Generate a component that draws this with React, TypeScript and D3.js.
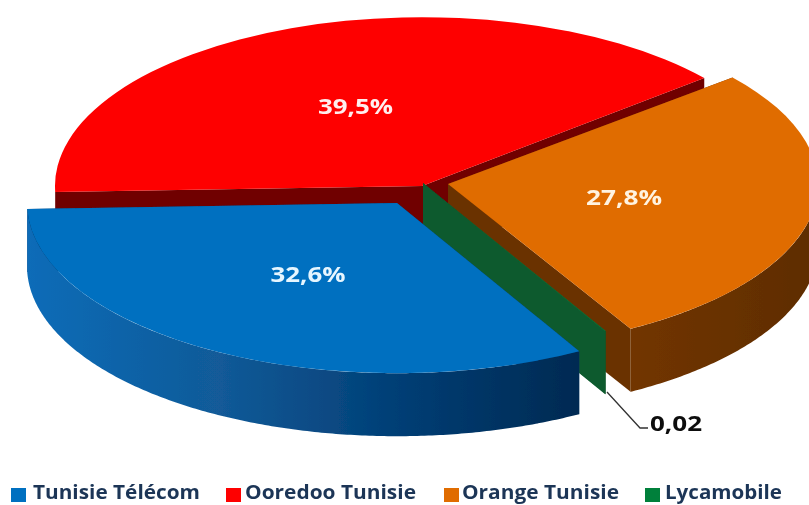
import React from "react";
import * as d3 from "d3";

const categories = ["Tunisie Télécom", "Ooredoo Tunisie", "Orange Tunisie", "Lycamobile"];
const values = [32.6, 39.5, 27.8, 0.02];
const valueLabels = ["32,6%", "39,5%", "27,8%", "0,02"];

const topColors = ["#0070c0", "#fe0000", "#e06c00", "#00803a"];
const wallColors = ["url(#blueWall)", "#700000", "url(#orangeWall)", "#0b5a2e"];
const cutColors = ["#0a3f70", "#700000", "#6a3204", "#0b5a2e"];
const centers: [number, number][] = [[397, 203], [422, 186], [448, 184], [423, 183]];
const radii = [370, 367, 370, 370];
const flatten = [0.46, 0.46, 0.45, 0.46];
const labelPos: [number, number][] = [[308, 282], [355.5, 114], [624, 205], [676, 431]];
const labelWidths = [75, 75, 76, 52];
const legendSwatchX = [11, 226, 444, 645];
const legendTextX = [33, 245, 462, 665];
const legendTextWidths = [167, 171, 157, 117];
const drawOrder = [1, 2, 3, 0];

const W = 809, H = 505, DEPTH = 63;
const START = (150.5 * Math.PI) / 180;
const sans = "'Open Sans', sans-serif";

export default function App() {
  const arcs = d3.pie<number>().sort(null).startAngle(START).endAngle(START + 2 * Math.PI)(values);
  const poly = d3.line();
  const rad = Math.PI / 180;
  const px = (i: number, a: number) => centers[i][0] + radii[i] * Math.sin(a);
  const py = (i: number, a: number) => centers[i][1] - radii[i] * flatten[i] * Math.cos(a);

  const outerWall = (i: number, a0: number, a1: number) => {
    const out: string[] = [];
    for (const [lo, hi] of [[90 * rad, 270 * rad], [450 * rad, 630 * rad]]) {
      const s = Math.max(a0, lo), e = Math.min(a1, hi);
      if (e <= s) continue;
      const pts = [...d3.range(s, e, 0.01), e];
      const area = d3.area<number>().x((a) => px(i, a)).y0((a) => py(i, a)).y1((a) => py(i, a) + DEPTH);
      out.push(area(pts) as string);
    }
    return out.join("");
  };
  const cutWall = (i: number, a: number) => {
    const c = centers[i];
    return (
      poly([
        [c[0], c[1]],
        [px(i, a), py(i, a)],
        [px(i, a), py(i, a) + DEPTH],
        [c[0], c[1] + DEPTH],
      ]) + "Z"
    );
  };

  return (
    <svg width={W} height={H} style={{ position: "absolute", left: 0, top: 0, background: "#fff" }}>
      <defs>
        <linearGradient id="blueWall" gradientUnits="userSpaceOnUse" x1="27" x2="580" y1="0" y2="0">
          <stop offset="0" stopColor="#0a6cb8" />
          <stop offset="0.35" stopColor="#125a98" />
          <stop offset="0.7" stopColor="#003c72" />
          <stop offset="1" stopColor="#002a52" />
        </linearGradient>
        <linearGradient id="orangeWall" gradientUnits="userSpaceOnUse" x1="610" x2="809" y1="0" y2="0">
          <stop offset="0" stopColor="#743606" />
          <stop offset="1" stopColor="#5f2d00" />
        </linearGradient>
        <filter id="soft" x="-5%" y="-5%" width="110%" height="110%">
          <feGaussianBlur stdDeviation="0.7" />
        </filter>
        <filter id="shadow" x="-20%" y="-30%" width="140%" height="160%">
          <feGaussianBlur stdDeviation="0.5" />
        </filter>
      </defs>
      <g filter="url(#soft)">
        {drawOrder.map((i) => {
          const d = arcs[i];
          const c = centers[i];
          return (
            <g key={categories[i]}>
              <path d={cutWall(i, d.startAngle)} fill={cutColors[i]} />
              <path d={cutWall(i, d.endAngle)} fill={cutColors[i]} />
              <path d={outerWall(i, d.startAngle, d.endAngle)} fill={wallColors[i]} />
              <path
                d={d3.arc<any>().innerRadius(0).outerRadius(radii[i])(d) as string}
                fill={topColors[i]}
                transform={`translate(${c[0]},${c[1]}) scale(1,${flatten[i]})`}
              />
            </g>
          );
        })}
        <path d={poly([[607, 392], [640, 428], [648, 428]]) as string} fill="none" stroke="#333" strokeWidth={1.3} />
        {categories.map((name, i) => (
          <g key={name}>
            <rect x={legendSwatchX[i]} y={488} width={15} height={14} fill={topColors[i]} />
            <text
              x={legendTextX[i]}
              y={499}
              fontFamily={sans}
              fontWeight={700}
              fontSize={19}
              fill="#1b3557"
              textLength={legendTextWidths[i]}
              lengthAdjust="spacingAndGlyphs"
            >
              {name}
            </text>
          </g>
        ))}
      </g>
      {valueLabels.map((t, i) => (
        <text
          key={t}
          x={labelPos[i][0]}
          y={labelPos[i][1]}
          textAnchor="middle"
          fontFamily={sans}
          fontWeight={700}
          fontSize={22}
          fill={i === 3 ? "#111" : i === 0 ? "#e6f6ff" : i === 1 ? "#ffeeee" : "#fff3e0"}
          filter="url(#shadow)"
          textLength={labelWidths[i]}
          lengthAdjust="spacingAndGlyphs"
        >
          {t}
        </text>
      ))}
    </svg>
  );
}
